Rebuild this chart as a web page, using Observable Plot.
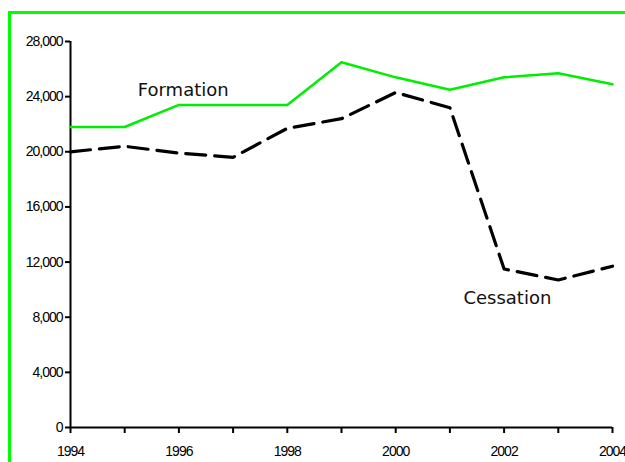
<!DOCTYPE html>
<html>
<head>
<meta charset="utf-8">
<script src="https://cdn.jsdelivr.net/npm/d3@7"></script>
<script src="https://cdn.jsdelivr.net/npm/@observablehq/plot@0.6"></script>
<style>
  html, body { margin: 0; padding: 0; background: #fff; }
  #wrap { position: relative; width: 625px; height: 462px; overflow: hidden; }
  #frame { position: absolute; left: 8px; top: 11px; width: 700px; height: 600px;
           border-top: 3px solid #00ff00; border-left: 3px solid #00ff00; }
  #chart { position: absolute; left: 0; top: 0; }
  .tick-label { letter-spacing: -1px; }
</style>
</head>
<body>
<div id="wrap"><div id="frame"></div><div id="chart"></div></div>
<script>
const years = [1994, 1995, 1996, 1997, 1998, 1999, 2000, 2001, 2002, 2003, 2004];
const formation = [21800, 21800, 23400, 23400, 23400, 26500, 25400, 24500, 25400, 25700, 24900];
const cessation = [20000, 20400, 19900, 19600, 21700, 22400, 24300, 23200, 11500, 10700, 11700];
const yTicks = [0, 4000, 8000, 12000, 16000, 20000, 24000, 28000];
const xLabelYears = [1994, 1996, 1998, 2000, 2002, 2004];
const seriesLabels = ["Formation", "Cessation"];
const labelX = [1996.08, 2002.06];
const labelY = [24500, 9360];

const fData = years.map((y, i) => ({year: y, value: formation[i]}));
const cData = years.map((y, i) => ({year: y, value: cessation[i]}));
const lData = seriesLabels.map((t, i) => ({text: t, x: labelX[i], y: labelY[i]}));

const tickFont = "Liberation Sans, Arial, sans-serif";

const chart = Plot.plot({
  width: 625,
  height: 462,
  marginLeft: 70,
  marginRight: 13,
  marginTop: 41,
  marginBottom: 35,
  style: {background: "transparent", fontFamily: tickFont, fontSize: "14px", color: "#000"},
  x: {domain: [1994, 2004]},
  y: {domain: [0, 28000]},
  marks: [
    Plot.ruleX([1994], {y1: 0, y2: 28000, stroke: "#000", strokeWidth: 2}),
    Plot.ruleY([0], {x1: 1994, x2: 2004, stroke: "#000", strokeWidth: 2}),
    Plot.axisY({
      ticks: yTicks, tickSize: 5, tickPadding: 3, tickFormat: d3.format(","),
      label: null, stroke: "#000", strokeWidth: 2, fontSize: 14, className: "tick-label"
    }),
    Plot.axisX({
      ticks: years, tickSize: 6, tickPadding: 13,
      tickFormat: d => xLabelYears.includes(d) ? String(d) : "",
      label: null, stroke: "#000", strokeWidth: 2, fontSize: 14, className: "tick-label"
    }),
    Plot.line(fData, {x: "year", y: "value", stroke: "#00ee00", strokeWidth: 2.5}),
    Plot.line(cData, {x: "year", y: "value", stroke: "#000", strokeWidth: 3.2, strokeDasharray: "20,9"}),
    Plot.text(lData, {x: "x", y: "y", text: "text", fontSize: 18, fill: "#111",
      fontFamily: "DejaVu Sans, Verdana, sans-serif", textAnchor: "middle"})
  ]
});
document.getElementById("chart").appendChild(chart);
</script>
</body>
</html>
